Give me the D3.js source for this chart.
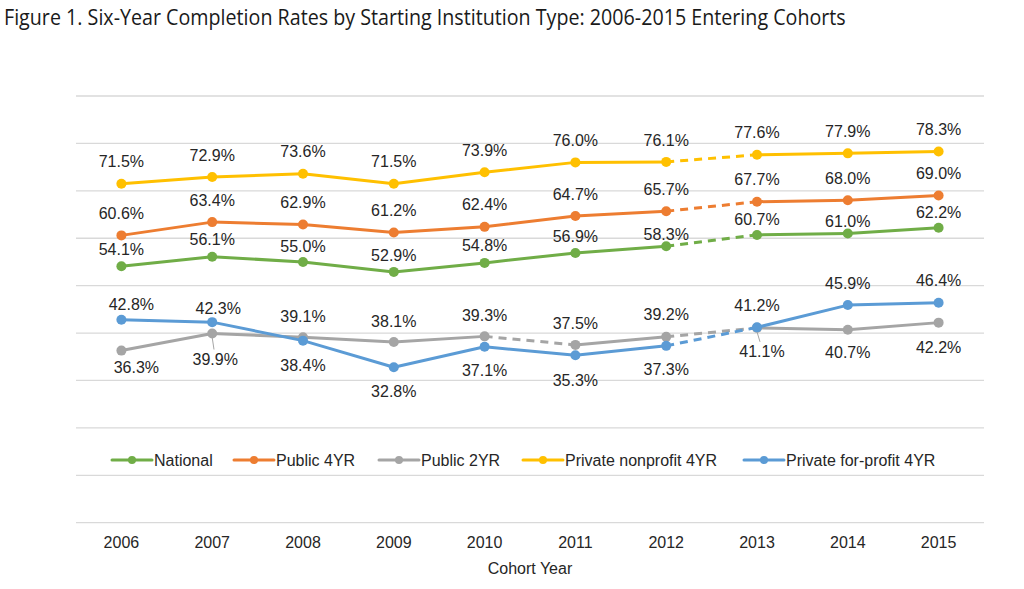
<!DOCTYPE html>
<html><head><meta charset="utf-8">
<script src="https://cdn.jsdelivr.net/npm/d3@7"></script>
<style>body{margin:0;background:#fff;}svg{display:block;}</style>
</head><body>
<svg id="chart" width="1024" height="589"></svg>
<script>
// ---- data ----
const years = ["2006","2007","2008","2009","2010","2011","2012","2013","2014","2015"];
const seriesNames = ["National","Public 4YR","Public 2YR","Private nonprofit 4YR","Private for-profit 4YR"];
const national     = [54.1,56.1,55.0,52.9,54.8,56.9,58.3,60.7,61.0,62.2];
const public4      = [60.6,63.4,62.9,61.2,62.4,64.7,65.7,67.7,68.0,69.0];
const public2      = [36.3,39.9,39.1,38.1,39.3,37.5,39.2,41.1,40.7,42.2];
const privNonprof  = [71.5,72.9,73.6,71.5,73.9,76.0,76.1,77.6,77.9,78.3];
const privForprof  = [42.8,42.3,38.4,32.8,37.1,35.3,37.3,41.2,45.9,46.4];
// dashed segments (index of segment start)
const dashedNational = [6];
const dashedPublic4  = [6];
const dashedPublic2  = [4,6];
const dashedNonprof  = [6];
const dashedForprof  = [6];
const yTicks = [0,10,20,30,40,50,60,70,80,90];

// ---- layout / style ----
const colors = ["#70AD47","#ED7D31","#A5A5A5","#FFC000","#5B9BD5"];
// label offsets (dx, dy) relative to point
const lblNational = [[0,-17],[0,-17],[0,-16],[0,-16],[0,-17],[0,-17],[0,-12],[0,-16],[0,-12],[0,-15]];
const lblPublic4  = years.map(()=>[0,-22]);
const lblPublic2  = [[15,17],[3,26],[0,-21],[0,-21],[0,-21],[0,-22],[0,-22],[5,24],[0,23],[0,25]];
const lblNonprof  = years.map(()=>[0,-22]);
const lblForprof  = [[10,-15],[6,-14],[0,25],[0,24],[0,24],[0,25],[0,24],[0,-22],[0,-22],[0,-22]];

const series = [
  {name:seriesNames[0], values:national,    dashed:dashedNational, lbl:lblNational, color:colors[0]},
  {name:seriesNames[1], values:public4,     dashed:dashedPublic4,  lbl:lblPublic4,  color:colors[1]},
  {name:seriesNames[2], values:public2,     dashed:dashedPublic2,  lbl:lblPublic2,  color:colors[2]},
  {name:seriesNames[3], values:privNonprof, dashed:dashedNonprof,  lbl:lblNonprof,  color:colors[3]},
  {name:seriesNames[4], values:privForprof, dashed:dashedForprof,  lbl:lblForprof,  color:colors[4]}
];

const svg = d3.select("#chart");
const pLeft = 76, pRight = 984, pTop = 96, pBottom = 522.7;
const x = d3.scaleBand().domain(years).range([pLeft,pRight]);
const cx = d => x(d) + x.bandwidth()/2;
const y = d3.scaleLinear().domain([0,90]).range([pBottom,pTop]);
const txtColor = "#262626";
const font = "'Liberation Sans', Arial, sans-serif";

// title (condensed to match reference width)
const tg = svg.append("g");
const title = tg.append("text").attr("x",0).attr("y",0)
  .attr("font-family","'Open Sans', sans-serif").attr("font-size",21).attr("fill","#1a1a1a")
  .text("Figure 1. Six-Year Completion Rates by Starting Institution Type: 2006-2015 Entering Cohorts");
const tw = title.node().getComputedTextLength();
tg.attr("transform",`translate(4,24.5) scale(${842/tw},1)`);

// gridlines
svg.append("g").selectAll("line").data(yTicks).join("line")
  .attr("x1",pLeft).attr("x2",pRight).attr("y1",d=>y(d)).attr("y2",d=>y(d))
  .attr("stroke","#D9D9D9").attr("stroke-width",1.3);

// x axis labels
const xAxis = svg.append("g").attr("transform",`translate(0,${pBottom})`)
  .call(d3.axisBottom(x).tickSize(0).tickPadding(14));
xAxis.select(".domain").remove();
xAxis.selectAll("text").attr("font-family",font).attr("font-size",16).attr("fill",txtColor);

svg.append("text").attr("x",(pLeft+pRight)/2).attr("y",574).attr("text-anchor","middle")
  .attr("font-family",font).attr("font-size",16).attr("fill",txtColor).text("Cohort Year");

// leader lines for a few labels
const leaders = [[2,1],[2,7]];
leaders.forEach(([s,i])=>{
  const sr = series[s];
  const px = cx(years[i]), py = y(sr.values[i]);
  svg.append("line").attr("x1",px).attr("y1",py+4).attr("x2",px+sr.lbl[i][0]*0.6).attr("y2",py+sr.lbl[i][1]-10)
    .attr("stroke","#A5A5A5").attr("stroke-width",1);
});

// lines + markers
series.forEach(s=>{
  const g = svg.append("g");
  const segs = d3.range(years.length-1).map(i=>({i, a:s.values[i], b:s.values[i+1]}));
  g.selectAll("line").data(segs).join("line")
    .attr("x1",d=>cx(years[d.i])).attr("y1",d=>y(d.a))
    .attr("x2",d=>cx(years[d.i+1])).attr("y2",d=>y(d.b))
    .attr("stroke",s.color).attr("stroke-width",3)
    .attr("stroke-dasharray",d=>s.dashed.includes(d.i)?"8,6":null)
    .attr("stroke-linecap",d=>s.dashed.includes(d.i)?"butt":"round");
  g.selectAll("circle").data(s.values).join("circle")
    .attr("cx",(d,i)=>cx(years[i])).attr("cy",d=>y(d)).attr("r",5).attr("fill",s.color);
});

// labels
series.forEach(s=>{
  svg.append("g").selectAll("text").data(s.values).join("text")
    .attr("x",(d,i)=>cx(years[i])+s.lbl[i][0]).attr("y",(d,i)=>y(d)+s.lbl[i][1])
    .attr("dy","0.35em").attr("text-anchor","middle")
    .attr("font-family",font).attr("font-size",16).attr("fill",txtColor)
    .text(d=>d.toFixed(1)+"%");
});

// legend
const legX = [112,234,379,523,744];
const lg = svg.append("g").attr("transform","translate(0,460)");
series.forEach((s,k)=>{
  const g = lg.append("g").attr("transform",`translate(${legX[k]},0)`);
  g.append("line").attr("x1",0).attr("x2",40).attr("y1",0).attr("y2",0)
    .attr("stroke",s.color).attr("stroke-width",3).attr("stroke-linecap","round");
  g.append("circle").attr("cx",20).attr("cy",0).attr("r",4).attr("fill",s.color);
  g.append("text").attr("x",42).attr("y",0).attr("dy","0.35em")
    .attr("font-family",font).attr("font-size",16).attr("fill",txtColor).text(s.name);
});
</script>
</body></html>
